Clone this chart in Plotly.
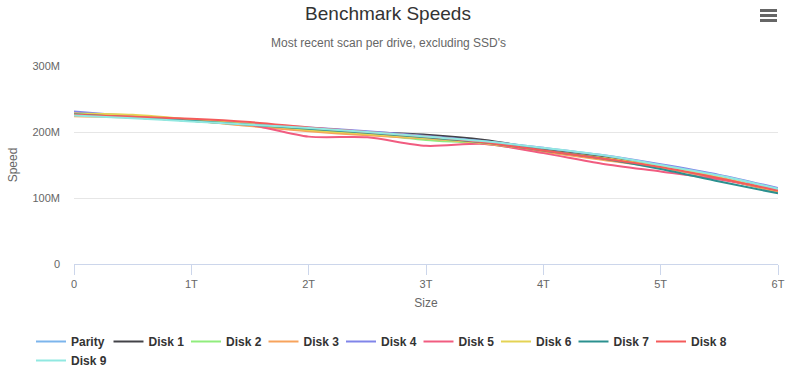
import plotly.graph_objects as go

# Size positions in TB
size_t = [0, 0.5, 1, 1.5, 2, 2.5, 3, 3.5, 4, 4.5, 5, 5.5, 6]

# Speeds in MB/s
parity = [228, 223, 218, 212, 206, 200, 193, 185, 175, 164, 150, 134, 113]
disk1 = [227, 222, 217, 211, 205, 200, 196, 188, 174, 162, 147, 130, 110]
disk2 = [226, 222, 217, 210, 204, 197, 188, 182, 170, 160, 146, 130, 110]
disk3 = [224, 222, 217, 209, 201, 195, 190, 183, 170, 158, 146, 130, 109]
disk4 = [231, 224, 218, 212, 207, 201, 194, 186, 176, 165, 151, 135, 115]
disk5 = [228, 223, 219, 211, 193, 192, 179, 182, 168, 152, 140, 128, 112]
disk6 = [228, 226, 219, 212, 203, 197, 191, 183, 172, 161, 148, 131, 110]
disk7 = [227, 222, 217, 211, 205, 199, 192, 184, 172, 160, 144, 125, 107]
disk8 = [226, 223, 220, 215, 207, 200, 193, 184, 172, 160, 147, 130, 111]
disk9 = [225, 221, 216, 211, 206, 200, 193, 186, 176, 165, 150, 134, 114]

names = ["Parity", "Disk 1", "Disk 2", "Disk 3", "Disk 4", "Disk 5",
         "Disk 6", "Disk 7", "Disk 8", "Disk 9"]
series = [parity, disk1, disk2, disk3, disk4, disk5, disk6, disk7, disk8, disk9]
colors = ["#7cb5ec", "#434348", "#90ed7d", "#f7a35c", "#8085e9", "#f15c80",
          "#e4d354", "#2b908f", "#f45b5b", "#91e8e1"]

x_ticks = [0, 1, 2, 3, 4, 5, 6]
x_labels = ["0", "1T", "2T", "3T", "4T", "5T", "6T"]
y_ticks = [0, 100, 200, 300]
y_labels = ["0", "100M", "200M", "300M"]

FONT = "Liberation Sans, Arial, sans-serif"
W, H = 789, 376
L, R, T, B = 74, 11, 66, 112
PW, PH = W - L - R, H - T - B


def px_x(p):
    return (p - L) / PW


def px_y(p):
    return (H - B - p) / PH


fig = go.Figure()
for n, s, c in zip(names, series, colors):
    fig.add_trace(go.Scatter(x=size_t, y=s, name=n, mode="lines",
                             line=dict(color=c, width=2, shape="spline", smoothing=0.8)))

fig.update_layout(
    width=W, height=H,
    margin=dict(l=L, r=R, t=T, b=B, autoexpand=False),
    paper_bgcolor="white", plot_bgcolor="white",
    font=dict(family=FONT, color="#666666", size=11),
    title=dict(text="Benchmark Speeds", x=388 / W, xanchor="center",
               y=1 - 13 / H, yanchor="middle",
               font=dict(size=19, color="#333333", family=FONT)),
    xaxis=dict(range=[0, 6], tickvals=x_ticks, ticktext=x_labels,
               showgrid=False, zeroline=False, showline=True, linecolor="#ccd6eb",
               linewidth=1, ticks="outside", ticklen=10, tickcolor="#ccd6eb",
               tickfont=dict(size=11, color="#666666"),
               title=dict(text="Size", standoff=9, font=dict(size=12, color="#666666"))),
    yaxis=dict(range=[0, 300], tickvals=y_ticks, ticktext=y_labels,
               showgrid=True, gridcolor="#e6e6e6", zeroline=False, showline=False,
               ticks="", ticklabelstandoff=13,
               tickfont=dict(size=11, color="#666666"),
               title=dict(text="Speed", standoff=12, font=dict(size=12, color="#666666"))),
    legend=dict(orientation="h", xref="container", x=31 / W, xanchor="left",
                yref="container", y=1 - 327 / H, yanchor="top",
                font=dict(size=12, color="#333333", family=FONT, weight="bold"),
                entrywidth=32.5, entrywidthmode="pixels", itemwidth=30,
                tracegroupgap=0, bgcolor="rgba(0,0,0,0)"),
    showlegend=True,
)

fig.add_annotation(text="Most recent scan per drive, excluding SSD's",
                   xref="paper", yref="paper", x=px_x(388), xanchor="center",
                   y=px_y(43), yanchor="middle", showarrow=False,
                   font=dict(size=12, color="#666666", family=FONT))

# export-menu icon (three bars)
for yy in (10.5, 15.5, 20.5):
    fig.add_shape(type="line", xref="paper", yref="paper",
                  x0=px_x(760), x1=px_x(777), y0=px_y(yy), y1=px_y(yy),
                  line=dict(color="#666666", width=3))

fig.write_html("out.html", config={"displayModeBar": False})
